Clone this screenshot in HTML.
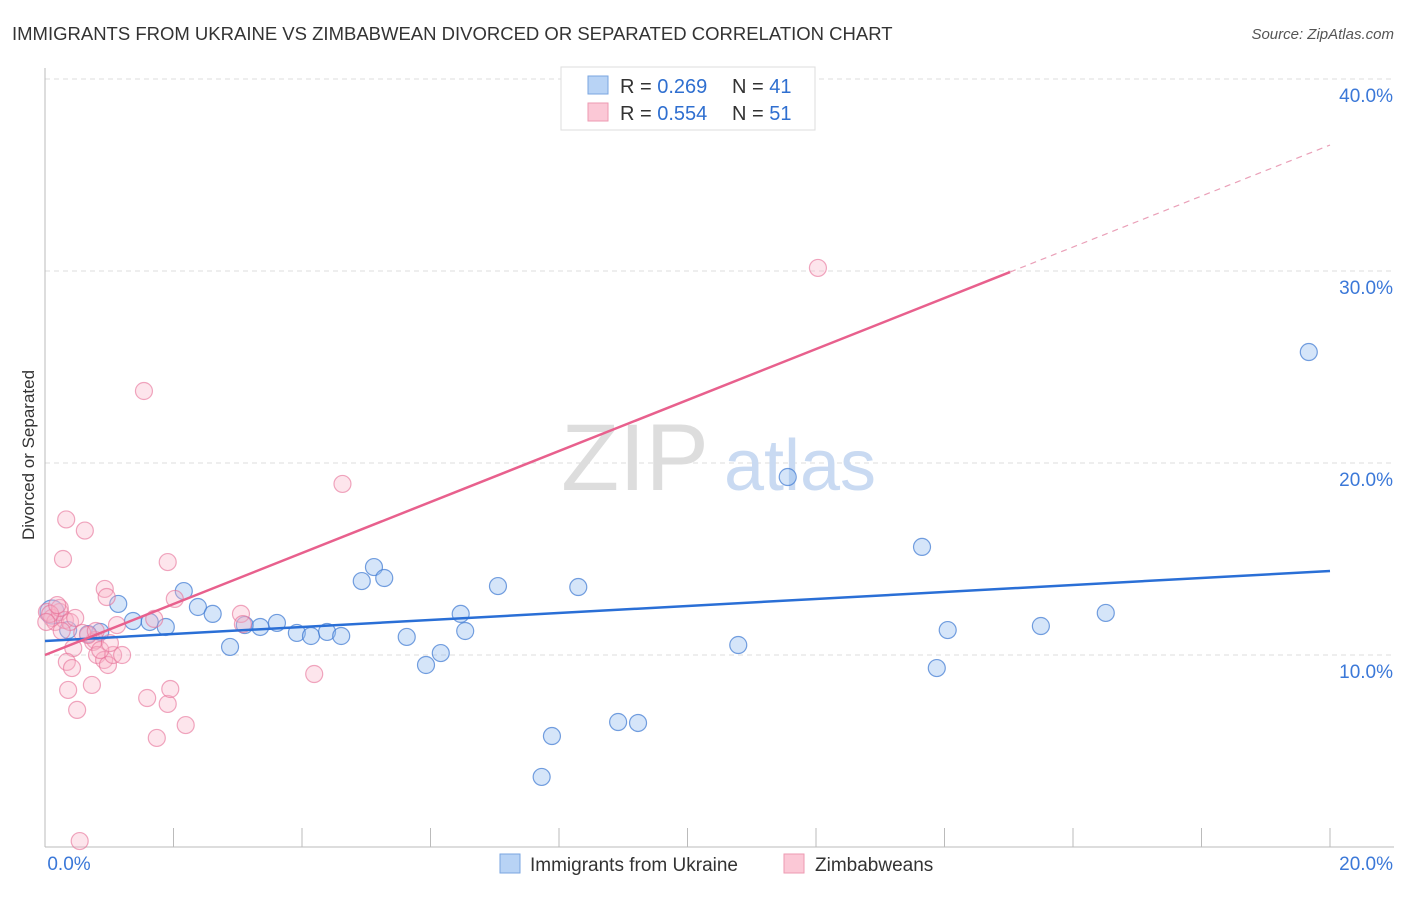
<!DOCTYPE html>
<html><head><meta charset="utf-8"><style>
body{margin:0;background:#fff;font-family:"Liberation Sans",sans-serif;}
svg text{font-family:"Liberation Sans",sans-serif;}
</style></head><body>
<svg id="chart" width="1406" height="892" xmlns="http://www.w3.org/2000/svg">
<text x="12" y="40" font-size="18.5" fill="#333">IMMIGRANTS FROM UKRAINE VS ZIMBABWEAN DIVORCED OR SEPARATED CORRELATION CHART</text>
<text x="1394" y="39" font-size="15" fill="#555" text-anchor="end" font-style="italic">Source: ZipAtlas.com</text>
<text x="0" y="0" transform="translate(34,455) rotate(-90)" font-size="17" fill="#333" text-anchor="middle">Divorced or Separated</text>
<g id="grid"></g>
<g><text x="635" y="490" font-size="95" fill="#ddd" font-family="Liberation Serif" text-anchor="middle">ZIP</text><text x="800" y="490" font-size="72" fill="#c9daf2" text-anchor="middle">atlas</text></g>
<line x1="45" y1="68" x2="45" y2="847" stroke="#bbb"/>
<line x1="45" y1="847" x2="1394" y2="847" stroke="#bbb"/>
<g id="ticks"></g>
<g id="pts"></g>
<g id="lines"></g>
<g>
<rect x="561" y="67" width="254" height="63" fill="#fff" stroke="#ddd"/>
<rect x="588" y="76" width="20" height="18" fill="#b8d3f5" stroke="#7aa6e0"/>
<rect x="588" y="103" width="20" height="18" fill="#fbc8d6" stroke="#ee9ab2"/>
<text x="620" y="93" font-size="20" fill="#333">R = <tspan fill="#2f6fd0">0.269</tspan></text>
<text x="732" y="93" font-size="20" fill="#333">N = <tspan fill="#2f6fd0">41</tspan></text>
<text x="620" y="120" font-size="20" fill="#333">R = <tspan fill="#2f6fd0">0.554</tspan></text>
<text x="732" y="120" font-size="20" fill="#333">N = <tspan fill="#2f6fd0">51</tspan></text>
</g>
<g>
<rect x="500" y="854" width="20" height="19" fill="#b8d3f5" stroke="#7aa6e0"/>
<text x="530" y="871" font-size="19" fill="#333">Immigrants from Ukraine</text>
<rect x="784" y="854" width="20" height="19" fill="#fbc8d6" stroke="#ee9ab2"/>
<text x="815" y="871" font-size="19" fill="#333">Zimbabweans</text>
</g>
</svg>
<script>
const yTicks=[10,20,30,40];
const yTickLabels=["10.0%","20.0%","30.0%","40.0%"];
const xTickLabels=["0.0%","20.0%"];
const blueX=[0.11,0.36,0.86,0.67,1.14,1.37,1.63,1.88,2.16,2.38,2.61,2.88,3.11,3.35,3.61,3.92,4.14,4.39,4.61,4.93,5.12,5.28,5.63,5.93,6.16,6.47,6.54,7.05,7.73,7.89,8.30,8.92,9.23,10.79,11.56,13.65,13.88,14.05,15.50,16.51,19.67];
const blueY=[12.24,11.30,11.20,11.09,12.66,11.77,11.72,11.46,13.33,12.50,12.14,10.42,11.56,11.46,11.67,11.15,10.99,11.20,10.99,13.85,14.58,14.01,10.94,9.48,10.10,12.14,11.25,13.59,3.65,5.78,13.54,6.51,6.46,10.52,19.27,15.63,9.32,11.30,11.51,12.19,25.78];
const pinkX=[0.03,0.11,0.16,0.23,0.31,0.33,0.62,0.28,0.39,0.47,0.44,0.78,0.93,0.96,1.12,0.75,0.81,0.34,0.42,0.36,0.50,0.73,0.92,0.98,1.06,1.20,1.54,1.59,1.74,1.91,1.91,1.95,2.02,2.19,1.70,3.05,3.08,4.19,4.63,0.54,12.03,0.23,0.08,0.67,0.86,0.19,0.26,0.58,1.01,0.02,0.79];
const pinkY=[12.24,11.93,11.72,12.24,11.82,17.06,16.48,15.00,11.72,11.93,10.36,10.78,13.44,13.02,11.56,10.68,10.00,9.64,9.32,8.18,7.14,8.44,9.74,9.48,10.00,10.00,23.75,7.76,5.68,14.84,7.45,8.23,12.92,6.35,11.88,12.14,11.61,9.01,18.91,0.31,30.16,12.45,12.14,11.04,10.26,12.60,11.25,11.15,10.62,11.72,11.25];
const blueTrend=[10.73,14.375];
const pinkTrend=[10.0,1.328];
const NS="http://www.w3.org/2000/svg";
const X0=45,X1=1330,Y0=847,PPY=19.2;
const sx=v=>X0+(v/20)*(X1-X0), sy=v=>Y0-v*PPY;
function mk(tag,attrs,parent){const e=document.createElementNS(NS,tag);for(const k in attrs)e.setAttribute(k,attrs[k]);parent.appendChild(e);return e;}
const grid=document.getElementById('grid'),ticks=document.getElementById('ticks'),svg=document.getElementById('chart');
yTicks.forEach((t,i)=>{
 const l=mk('line',{x1:X0,x2:1394,y1:sy(t),y2:sy(t),stroke:'#ddd','stroke-dasharray':'5,4'},grid);
 
 
 const tx=mk('text',{x:1393,y:sy(t)+23,'font-size':19,fill:'#3b78d8','text-anchor':'end'},ticks);
 tx.textContent=yTickLabels[i];
 
 
});
for(let i=0;i<=10;i++){
 const x=sx(i*2);
 const l=mk('line',{x1:x,x2:x,y1:828,y2:847,stroke:'#bbb'},ticks);
 
 
}
[[0,69,'start'],[1,1393,'end']].forEach(([i,x,a])=>{
 const tx=mk('text',{x:x,y:870,'font-size':19,fill:'#3b78d8','text-anchor':a==='start'?'middle':'end'},ticks);
 tx.textContent=xTickLabels[i];
 
 
});
const pts=document.getElementById('pts');
blueX.forEach((v,i)=>{
 const c=mk('circle',{cx:sx(v),cy:sy(blueY[i]),r:i===0?12:8.5,fill:'rgba(150,190,240,0.4)',stroke:'rgba(60,120,210,0.7)','stroke-width':1.2},pts);
 
 
});
pinkX.forEach((v,i)=>{
 const c=mk('circle',{cx:sx(v),cy:sy(pinkY[i]),r:8.5,fill:'rgba(248,180,200,0.35)',stroke:'rgba(230,110,150,0.6)','stroke-width':1.2},pts);
 
 
});
const lines=document.getElementById('lines');
const bl=mk('line',{x1:sx(0),y1:sy(blueTrend[0]),x2:sx(20),y2:sy(blueTrend[1]),stroke:'#2a6fd6','stroke-width':2.5},lines);


const pEnd=15.02,pv=x=>pinkTrend[0]+pinkTrend[1]*x;
const pl=mk('line',{x1:sx(0),y1:sy(pv(0)),x2:sx(pEnd),y2:sy(pv(pEnd)),stroke:'#e8608d','stroke-width':2.5},lines);


const pd=mk('line',{x1:sx(pEnd),y1:sy(pv(pEnd)),x2:sx(20),y2:sy(pv(20)),stroke:'#eaa0b8','stroke-width':1.2,'stroke-dasharray':'6,5'},lines);


</script>
</body></html>
